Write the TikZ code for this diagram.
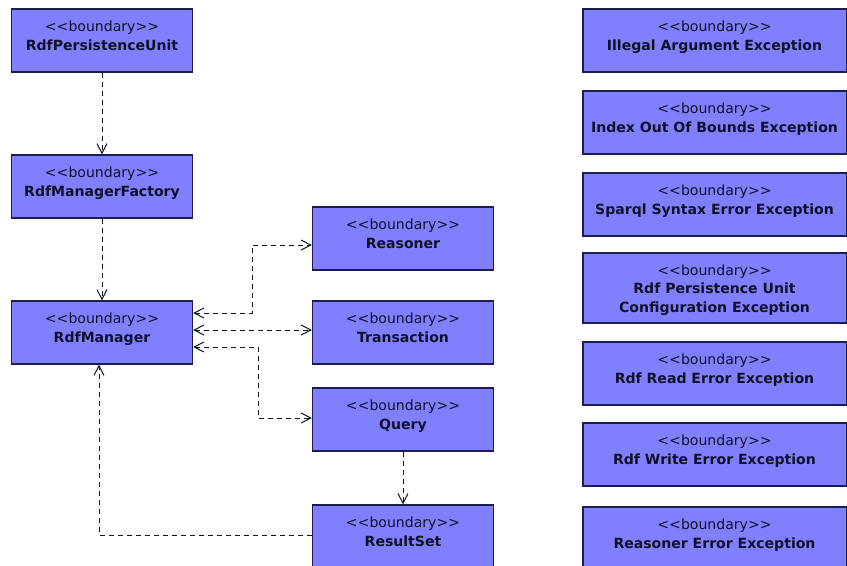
\documentclass[tikz,border=0pt]{standalone}
\usepackage{fontspec}
\setmainfont{DejaVu Sans}
\usetikzlibrary{arrows.meta,calc}

\definecolor{bndfill}{RGB}{128,128,255}
\definecolor{bndline}{RGB}{28,28,80}
\definecolor{bndtext}{RGB}{16,16,40}

\newcommand{\umlstereo}{<{}<boundary>{}>}

\tikzset{
  boundary/.style={draw=bndline, fill=bndfill, line width=0.4mm, align=center,
    inner xsep=0pt, inner ysep=0pt, minimum width=54.3mm,
    text height=12.3mm, text depth=6.6mm, text=bndtext,
    font=\fontsize{12pt}{15.4pt}\selectfont},
  exception/.style={boundary, minimum width=79mm},
  dep/.style={draw=bndtext, line width=0.3mm, dash pattern=on 1.5mm off 1.2mm,
    -{Straight Barb[length=2.9mm,width=3mm]}},
  twoway/.style={dep, {Straight Barb[length=2.9mm,width=3mm]}-{Straight Barb[length=2.9mm,width=3mm]}}
}

\begin{document}
\begin{tikzpicture}[x=0.3mm, y=-0.3mm]
	\useasboundingbox (0,0) rectangle (847,566);
	\clip (0,0) rectangle (847,566);
	% left column
	\node [boundary] (unit) at (102,40.5) {\umlstereo\\\textbf{RdfPersistenceUnit}};
	\node [boundary] (factory) at (102,186.5) {\umlstereo\\\textbf{RdfManagerFactory}};
	\node [boundary] (manager) at (102,332.5) {\umlstereo\\\textbf{RdfManager}};
	% middle column
	\node [boundary] (reasoner) at (403,238.5) {\umlstereo\\\textbf{Reasoner}};
	\node [boundary] (transaction) at (403,332.5) {\umlstereo\\\textbf{Transaction}};
	\node [boundary] (query) at (403,419.5) {\umlstereo\\\textbf{Query}};
	\node [boundary] (resultset) at (403,536.5) {\umlstereo\\\textbf{ResultSet}};
	% exceptions
	\node [exception] (illegal) at (714.5,40.5) {\umlstereo\\\textbf{Illegal Argument Exception}};
	\node [exception] (index) at (714.5,122.5) {\umlstereo\\\textbf{Index Out Of Bounds Exception}};
	\node [exception] (sparql) at (714.5,204.5) {\umlstereo\\\textbf{Sparql Syntax Error Exception}};
	\node [exception, text height=17.7mm, text depth=3.3mm] (config) at (714.5,288) {\umlstereo\\\textbf{Rdf Persistence Unit}\\\textbf{Configuration Exception}};
	\node [exception] (read) at (714.5,373.5) {\umlstereo\\\textbf{Rdf Read Error Exception}};
	\node [exception] (write) at (714.5,454.5) {\umlstereo\\\textbf{Rdf Write Error Exception}};
	\node [exception] (reasonererr) at (714.5,538.5) {\umlstereo\\\textbf{Reasoner Error Exception}};
	% dependencies
	\draw [dep] (unit) -- (factory);
	\draw [dep] (factory) -- (manager);
	\draw [twoway] ($(manager.east)+(0,-19.5)$) -- ++(59,0) |- ($(reasoner.west)+(0,6.5)$);
	\draw [twoway] ($(manager.east)+(0,-2.5)$) -- ($(transaction.west)+(0,-2.5)$);
	\draw [twoway] ($(manager.east)+(0,14.5)$) -- ++(65,0) |- ($(query.west)+(0,-1.5)$);
	\draw [dep] (query) -- (resultset);
	\draw [dep] ($(resultset.west)+(0,-1.5)$) -| ($(manager.south)+(-3,0)$);
\end{tikzpicture}
\end{document}
